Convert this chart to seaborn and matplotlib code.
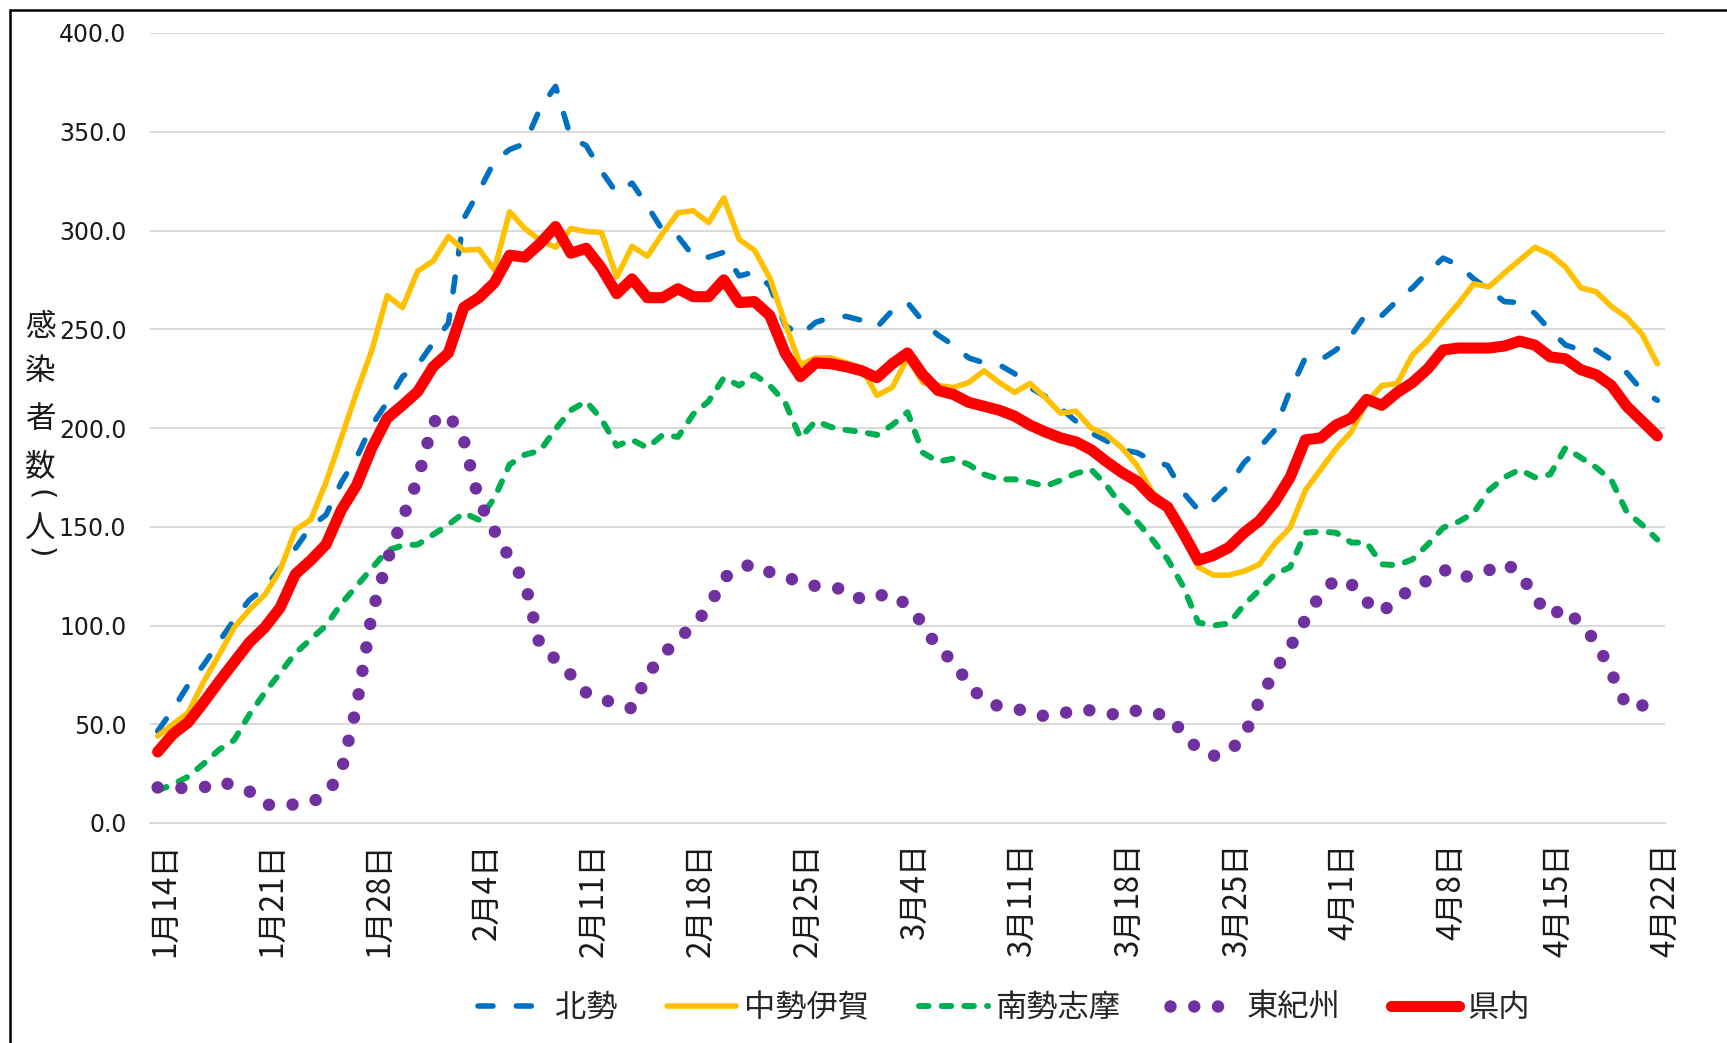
import numpy as np
import pandas as pd
import matplotlib
matplotlib.use("Agg")
import matplotlib.pyplot as plt
import seaborn as sns
from matplotlib.lines import Line2D
from matplotlib.font_manager import FontProperties

# ---------------- data ----------------
tick_labels = ["1月14日", "1月21日", "1月28日", "2月4日", "2月11日", "2月18日", "2月25日",
               "3月4日", "3月11日", "3月18日", "3月25日", "4月1日", "4月8日", "4月15日", "4月22日"]

series_names = ["北勢", "中勢伊賀", "南勢志摩", "東紀州", "県内"]

kita = [46.5, 57.5, 70, 80, 91.5, 103, 113, 119, 129, 139,
        150, 156, 172.5, 185, 201.5, 213, 226, 232, 243, 253,
        306, 320, 335, 341, 344, 362, 373, 347, 343, 330,
        319, 324, 312.5, 300, 297, 287, 286.5, 289, 277, 279,
        272, 252, 247, 253.5, 256, 256.5, 254.5, 251, 259.5, 263.5,
        254, 247, 242, 235.5, 233, 232, 227.5, 220.5, 216, 210,
        203.5, 197.5, 193.5, 189, 187.5, 183.5, 181, 167.5, 158.5, 163.5,
        171, 182.5, 190, 199, 219, 235.5, 234.5, 239.5, 247, 258,
        257, 264.5, 271, 279, 286, 282.5, 275.5, 270, 264, 263.5,
        258, 249.5, 242, 239.5, 239.5, 234.5, 228, 219, 214]

naka = [44, 50, 56, 71.5, 85, 99, 108, 115.5, 128, 148.5,
        153.5, 172.5, 195, 218, 239.5, 267, 261, 279.5, 284.5, 297,
        290, 290.5, 280, 309.5, 301, 295, 291.5, 301, 299.5, 299,
        276.5, 292, 287, 298.5, 309, 310, 304, 316.5, 295.5, 290,
        276, 253, 232, 235.5, 235.5, 233, 230.5, 216.5, 220.5, 235.5,
        223, 221.5, 220.5, 223, 229, 223, 218, 222.5, 215.5, 207.5,
        208.5, 200, 196.5, 190, 181, 167.5, 161, 146, 129.5, 125.5,
        125.5, 127.5, 131, 141.5, 149.5, 168.5, 179, 189.5, 198, 213,
        221.5, 222.5, 237, 244.5, 254, 263, 273, 271.5, 278.5, 285,
        291.5, 288, 281.5, 271, 269, 261.5, 256, 247.5, 232.5]

minami = [16.5, 19.5, 23.5, 30, 37, 42, 55, 66, 76, 86,
          93, 100, 111, 120, 129, 138, 140.5, 141, 146, 151,
          157, 153.5, 164.5, 181.5, 186.5, 188.5, 199.5, 209, 213.5, 204.5,
          191, 194, 190, 196.5, 195.5, 207, 213.5, 225.5, 221.5, 227,
          221.5, 213, 195, 203.5, 200.5, 199, 198, 196.5, 201.5, 208,
          187.5, 183, 184.5, 181.5, 176.5, 174, 174, 172.5, 170.5, 173.5,
          177, 179, 171, 160.5, 152.5, 143.5, 133.5, 120, 101.5, 100,
          101, 110.5, 118, 126, 129.5, 147, 147.5, 147, 142, 142,
          131, 130.5, 133.5, 141, 149.5, 152.5, 157, 168.5, 175, 179,
          175, 176.5, 190, 185, 180, 173.5, 157.5, 151, 143.5]

higashi = [18, 18, 17.5, 18, 21, 19, 16, 9.5, 8.5, 9.5,
           10.5, 14, 26, 59, 106, 133, 154, 174, 203, 207,
           194, 163, 148, 134, 122, 89, 83, 75, 66, 63,
           60, 58, 75, 85, 93, 100, 109, 124, 129.5, 131,
           127, 125, 121.5, 120, 119, 118.5, 113, 115, 116, 110,
           101, 88, 82, 70, 62, 59, 58, 56, 54, 55,
           57.5, 57, 55.5, 54.5, 57, 56, 54, 46, 37, 34,
           36, 44, 62, 77, 89, 103, 116, 123.5, 121, 112,
           106.5, 114, 118.5, 123, 128.5, 124, 125.5, 128, 131.5, 127,
           114, 105, 109, 100, 92, 76, 59, 59.5, 60]

kennai = [36, 45, 51, 61, 71.5, 81.5, 91.5, 99, 109, 126,
          133, 141, 158.5, 171, 190, 205, 211.5, 218.5, 231, 238,
          261, 266, 273.5, 287.5, 286.5, 293.5, 302, 288.5, 291, 281,
          268, 275.5, 266, 266, 270.5, 266.5, 266.5, 275, 263.5, 264,
          257, 238, 226, 233, 232.5, 231, 229, 225.5, 232.5, 238,
          227, 219, 217, 213, 211, 209, 206, 201.5, 198, 195,
          193, 189, 183, 177.5, 173, 165, 160, 147, 133, 135.5,
          139.5, 147, 153, 162.5, 175, 194, 195, 201.5, 205, 214.5,
          211.5, 218, 223, 230, 239.5, 240.5, 240.5, 240.5, 241.5, 244,
          242, 236, 235, 229.5, 227, 221.5, 211, 203.5, 196]

# ---------------- style ----------------
sns.set_style("white")
plt.rcParams['font.family'] = ['DejaVu Sans', 'Noto Sans CJK JP']

W, H = 1727, 1043
fig = plt.figure(figsize=(W / 100, H / 100), dpi=100)
ax = fig.add_axes([150 / W, 1 - 823 / H, 1515 / W, 790 / H])

days = np.arange(len(kennai))
df = pd.DataFrame({"day": days, "北勢": kita, "中勢伊賀": naka, "南勢志摩": minami,
                   "東紀州": higashi, "県内": kennai})

styles = {
    "北勢": dict(color="#0070C0", linewidth=4.0, linestyle=(0, (2.7, 4.2)), dash_capstyle="round"),
    "中勢伊賀": dict(color="#FFC000", linewidth=4.0, linestyle="-", solid_capstyle="round"),
    "南勢志摩": dict(color="#00B050", linewidth=4.3, linestyle=(0, (1.6, 2.2)), dash_capstyle="round"),
    "東紀州": dict(color="#7030A0", linewidth=9.0, linestyle=(0, (0.001, 1.9)), dash_capstyle="round"),
    "県内": dict(color="#FF0000", linewidth=8.0, linestyle="-", solid_capstyle="round"),
}

for name in series_names:
    sns.lineplot(data=df, x="day", y=name, ax=ax, label=name, errorbar=None, **styles[name])

# axes
ax.set_xlim(-0.5, len(kennai) - 0.5)
ax.set_ylim(0, 400)
ax.set_xlabel("")
ax.set_ylabel("")

yt = np.arange(0, 401, 50)
ax.set_yticks(yt)
ax.set_yticklabels([f"{v:.1f}" for v in yt])
ax.tick_params(axis="y", length=0, pad=17, labelsize=17, labelcolor="#1a1a1a")
ax.yaxis.grid(True, color="#D9D9D9", linewidth=1.4)
ax.xaxis.grid(False)
ax.set_axisbelow(True)

label_days = np.arange(0, len(kennai), 7)
ax.set_xticks(label_days - 0.5)
ax.set_xticklabels([])
ax.set_xticks(label_days + 0.5, minor=True)
ax.set_xticklabels(tick_labels, minor=True, rotation=90,
                   fontproperties=FontProperties(family="Noto Sans CJK JP", size=22.5))
ax.tick_params(axis="x", which="major", length=7.5, width=1.4, color="#D9D9D9", direction="out")
ax.tick_params(axis="x", which="minor", length=0, pad=14, labelcolor="#1a1a1a")

for s in ["top", "right", "left"]:
    ax.spines[s].set_visible(False)
ax.spines["bottom"].set_color("#D9D9D9")
ax.spines["bottom"].set_linewidth(1.4)

# legend
handles, labels = ax.get_legend_handles_labels()
if ax.get_legend() is not None:
    ax.get_legend().remove()
fig.legend(handles, labels, loc="center", bbox_to_anchor=(1004 / W, 1 - 1008 / H), ncol=5,
           frameon=False, prop=FontProperties(family="Noto Sans CJK JP", size=22.5),
           handlelength=2.2, handletextpad=0.25, columnspacing=1.6)

# vertical y-axis title (characters stacked, brackets turned for vertical writing)
ylab_chars = ["感", "染", "者", "数", "(", "人", ")"]
ylab_pos = [327, 371, 419, 467, 495, 528, 553]
ylab_rot = [0, 0, 0, 0, -90, 0, -90]
for ch, yp, rot in zip(ylab_chars, ylab_pos, ylab_rot):
    if rot:
        fig.text(40 / W, 1 - yp / H, ch, ha="center", va="center", fontsize=21,
                 family="DejaVu Sans", rotation=rot, color="#1a1a1a")
    else:
        fig.text(40 / W, 1 - yp / H, ch, ha="center", va="center", fontsize=22,
                 family=["Noto Sans CJK JP", "DejaVu Sans"], color="#1a1a1a")

# chart border (top and left visible)
fig.add_artist(Line2D([9.5 / W, 9.5 / W], [0, 1 - 9.5 / H], transform=fig.transFigure,
                      color="black", linewidth=1.8))
fig.add_artist(Line2D([9.5 / W, 1], [1 - 9.5 / H, 1 - 9.5 / H], transform=fig.transFigure,
                      color="black", linewidth=1.8))

fig.savefig("out.png", dpi=100)
